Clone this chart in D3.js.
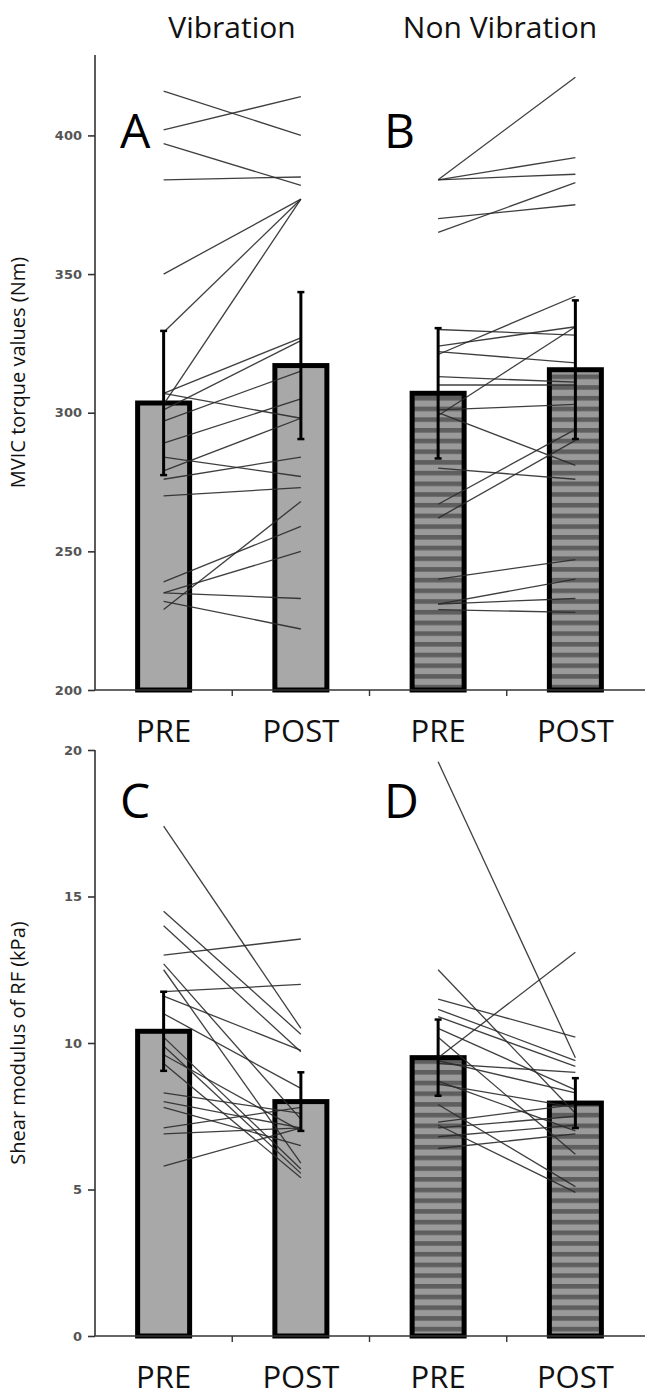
<!DOCTYPE html>
<html>
<head>
<meta charset="utf-8">
<script src="https://cdn.jsdelivr.net/npm/d3@7"></script>
<style>
  html, body { margin: 0; padding: 0; background: #fff; }
  svg { display: block; }
</style>
</head>
<body>
<script>
// ---------- DATA ----------
const categories = ["PRE", "POST", "PRE", "POST"];
const groupTitles = ["Vibration", "Non Vibration"];
const panelLetters = ["A", "B", "C", "D"];

// Top panels: MVIC torque (Nm)
const torqueTicks = [200, 250, 300, 350, 400];
const torqueMeans = [303.5, 317, 307, 315.5];
const torqueSD = [26, 26.5, 23.5, 25];
const vibTorquePre  = [416, 402, 397, 384, 350, 329, 303, 307, 301, 297, 289, 307, 279, 284, 276, 270, 239, 235, 229, 235, 232];
const vibTorquePost = [400, 414, 382, 385, 377, 377, 377, 327, 326, 315, 305, 298, 298, 277, 284, 273, 259, 250, 268, 233, 222];
const nonTorquePre  = [384, 384, 384, 370, 365, 330, 324, 321, 322, 299, 313, 310, 301, 300, 280, 267, 262, 240, 231, 231, 229];
const nonTorquePost = [421, 392, 386, 375, 383, 328, 331, 342, 318, 331, 311, 310, 303, 281, 276, 294, 290, 247, 240, 233, 228];

// Bottom panels: shear modulus (kPa)
const shearTicks = [0, 5, 10, 15, 20];
const shearMeans = [10.4, 8.0, 9.5, 7.95];
const shearSD = [1.35, 1.0, 1.3, 0.85];
const vibShearPre  = [17.4, 14.5, 14.0, 13.0, 12.7, 12.5, 11.75, 11.6, 11.0, 10.2, 9.9, 9.6, 9.3, 8.3, 8.0, 7.8, 7.1, 6.9, 5.8];
const vibShearPost = [10.5, 10.3, 9.7, 13.55, 7.4, 5.9, 12.0, 9.75, 8.45, 5.7, 5.55, 7.0, 5.4, 7.6, 7.1, 6.5, 7.8, 7.1, 7.1];
const nonShearPre  = [19.6, 12.5, 11.5, 11.15, 9.5, 10.9, 10.5, 10.2, 9.4, 8.7, 8.6, 7.9, 7.3, 7.2, 7.1, 6.8, 6.4, 9.3];
const nonShearPost = [9.5, 7.6, 10.2, 9.4, 13.1, 9.2, 8.4, 6.2, 8.3, 7.0, 7.8, 5.1, 7.9, 4.9, 7.5, 7.2, 6.9, 9.0];

// ---------- LAYOUT ----------
const W = 645, H = 1399;
const svg = d3.select("body").append("svg").attr("width", W).attr("height", H);

const defs = svg.append("defs");
const pat = defs.append("pattern").attr("id", "stripes")
  .attr("patternUnits", "userSpaceOnUse").attr("width", 10).attr("height", 10.7);
pat.append("rect").attr("width", 10).attr("height", 10.7).attr("fill", "#9a9a9a");
pat.append("rect").attr("y", 0).attr("width", 10).attr("height", 4.6).attr("fill", "#5e5e5e");

const x = d3.scaleBand().domain(d3.range(4)).range([95, 644]).paddingInner(0).paddingOuter(0);
const barW = 52;

const panels = [
  { y: d3.scaleLinear().domain([200, 429]).range([690, 55]), ticks: torqueTicks,
    means: torqueMeans, sd: torqueSD,
    pairs: [[vibTorquePre, vibTorquePost], [nonTorquePre, nonTorquePost]],
    label: "MVIC torque values (Nm)", letters: ["A", "B"], letterY: 148, axisTop: 429 },
  { y: d3.scaleLinear().domain([0, 20]).range([1336, 750]), ticks: shearTicks,
    means: shearMeans, sd: shearSD,
    pairs: [[vibShearPre, vibShearPost], [nonShearPre, nonShearPost]],
    label: "Shear modulus of RF (kPa)", letters: ["C", "D"], letterY: 818, axisTop: 20 }
];

const cx = i => x(i) + x.bandwidth() / 2;

panels.forEach((p, pi) => {
  const g = svg.append("g");
  const y = p.y;
  const base = y.range()[0];

  // bars
  g.selectAll("rect.bar").data(p.means).join("rect")
    .attr("class", "bar")
    .attr("x", (d, i) => cx(i) - barW / 2)
    .attr("y", d => y(d))
    .attr("width", barW)
    .attr("height", d => base - y(d))
    .attr("fill", (d, i) => i < 2 ? "#a8a8a8" : "url(#stripes)")
    .attr("stroke", "#000")
    .attr("stroke-width", 5);

  // individual lines
  p.pairs.forEach((pair, gi) => {
    const [pre, post] = pair;
    const i0 = gi * 2, i1 = gi * 2 + 1;
    g.selectAll("line.ind" + gi).data(pre).join("line")
      .attr("class", "ind" + gi)
      .attr("x1", cx(i0)).attr("x2", cx(i1))
      .attr("y1", d => y(d))
      .attr("y2", (d, k) => y(post[k]))
      .attr("stroke", "#2a2a2a")
      .attr("stroke-width", 1.3)
      .attr("stroke-opacity", 0.9);
  });

  // error bars
  p.means.forEach((m, i) => {
    const s = p.sd[i];
    g.append("line").attr("x1", cx(i)).attr("x2", cx(i))
      .attr("y1", y(m - s)).attr("y2", y(m + s))
      .attr("stroke", "#000").attr("stroke-width", 3);
    [m - s, m + s].forEach(v => {
      g.append("line").attr("x1", cx(i) - 3.5).attr("x2", cx(i) + 3.5)
        .attr("y1", y(v)).attr("y2", y(v))
        .attr("stroke", "#000").attr("stroke-width", 2.5);
    });
  });

  // y axis
  const yAxis = d3.axisLeft(y).tickValues(p.ticks).tickSize(7).tickSizeOuter(0).tickPadding(6);
  const ga = svg.append("g").attr("transform", "translate(95,0)").call(yAxis);
  ga.select(".domain").attr("stroke", "#333").attr("stroke-width", 1.6)
    .attr("d", `M0,${y(p.axisTop)}V${base}`);
  ga.selectAll(".tick line").attr("stroke", "#333").attr("stroke-width", 1.6);
  ga.selectAll(".tick text").attr("fill", "#555").attr("font-family", "DejaVu Sans")
    .attr("font-size", 13).attr("font-weight", "bold");

  // x axis
  svg.append("line").attr("x1", 95).attr("x2", 645).attr("y1", base).attr("y2", base)
    .attr("stroke", "#333").attr("stroke-width", 1.6);
  [1, 2, 3].forEach(k => {
    const xx = x.range()[0] + k * x.step();
    svg.append("line").attr("x1", xx).attr("x2", xx).attr("y1", base).attr("y2", base + 6)
      .attr("stroke", "#333").attr("stroke-width", 1.4);
  });
  categories.forEach((c, i) => {
    svg.append("text").attr("x", cx(i)).attr("y", base + 52)
      .attr("text-anchor", "middle").attr("font-family", "Open Sans")
      .attr("font-size", 31).attr("fill", "#111").text(c);
  });

  // y label
  svg.append("text")
    .attr("transform", `translate(25,${(y(p.axisTop) + base) / 2}) rotate(-90)`)
    .attr("text-anchor", "middle").attr("font-family", "Open Sans")
    .attr("font-size", 20).attr("fill", "#111").text(p.label);

  // panel letters
  p.letters.forEach((L, k) => {
    svg.append("text").attr("x", k === 0 ? 120 : 384).attr("y", p.letterY)
      .attr("font-family", "Open Sans").attr("font-size", 48).attr("fill", "#000").text(L);
  });
});

// group titles
groupTitles.forEach((t, k) => {
  svg.append("text").attr("x", k === 0 ? 232 : 500).attr("y", 38)
    .attr("text-anchor", "middle").attr("font-family", "Open Sans")
    .attr("font-size", 30).attr("fill", "#111").text(t);
});
</script>
</body>
</html>
